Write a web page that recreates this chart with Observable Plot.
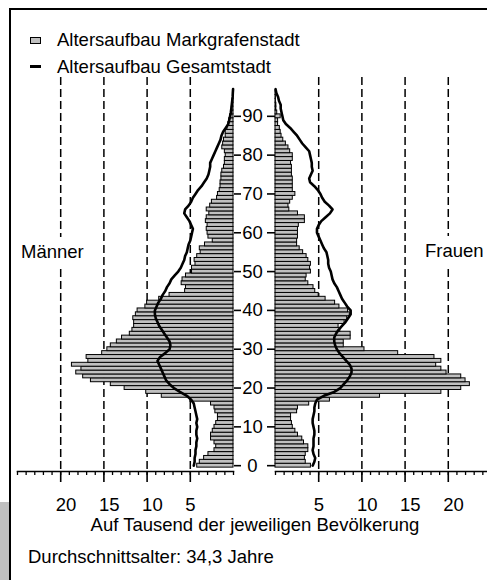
<!DOCTYPE html>
<html>
<head>
<meta charset="utf-8">
<script src="https://cdn.jsdelivr.net/npm/d3@7"></script>
<script src="https://cdn.jsdelivr.net/npm/@observablehq/plot@0.6"></script>
<style>
  body { margin: 0; background: #fff; }
  #page { position: relative; width: 487px; height: 580px; overflow: hidden; background: #fff;
          font-family: "Liberation Sans", Arial, sans-serif; color: #000; }
  #page svg { position: absolute; top: 0; }
  .abs { position: absolute; font-size: 18.5px; line-height: 18px; white-space: nowrap; }
  #frame { position: absolute; left: 9px; top: 8px; width: 600px; height: 700px;
           border-left: 2px solid #000; border-top: 2px solid #000; }
  #grey { position: absolute; left: 0; top: 502px; width: 9px; height: 78px; background: #c0c0c0; }
</style>
</head>
<body>
<div id="page">
  <div id="frame"></div>
  <div id="grey"></div>
</div>
<script>
// ---- data (per mille of the respective population, by age) ----
const ages = d3.range(0, 98);
const maleBars = [4.2,3.9,3.4,2.9,2.2,2.0,2.2,2.6,2.6,2.4, 2.2,2.0,1.8,1.8,2.1,2.2,2.6,5.0,8.3,10.1,
  12.6,14.2,16.5,17.4,18.2,17.6,18.7,16.8,17.0,15.2, 14.6,14.2,13.5,12.9,12.0,11.7,11.5,11.5,11.6,11.3,
  11.1,10.2,10.0,8.6,7.4,5.6,5.5,6.0,5.9,5.5, 4.8,4.8,4.4,4.5,4.2,3.8,3.9,3.3,2.4,2.9,
  3.0,3.1,3.0,3.2,3.1,2.8,3.1,2.7,2.5,1.9, 1.8,1.6,1.5,1.5,1.4,1.4,1.3,1.1,1.0,1.0,
  0.9,1.0,1.3,1.2,1.1,0.9,0.9,0.7,0.6,0.5, 0.4,0.3,0.2,0.1,0.1,0.05,0.05,0];
const maleTotal = [4.6,4.5,4.5,4.4,4.4,4.3,4.3,4.2,4.3,4.3, 4.2,4.3,4.2,4.3,4.4,4.5,4.6,4.9,5.4,6.2,
  6.9,7.4,7.8,8.0,8.2,8.4,8.6,8.8,8.5,7.9, 7.4,7.3,7.4,7.7,8.0,8.3,8.6,8.8,9.0,9.1,
  9.1,8.9,8.7,8.4,8.2,7.9,7.7,7.4,7.2,6.8, 6.4,6.1,5.9,5.7,5.6,5.4,5.3,5.2,5.0,4.9,
  4.8,4.7,4.9,5.1,5.4,5.7,5.6,5.2,4.9,4.7, 4.4,4.1,3.7,3.4,3.1,2.9,2.8,2.7,2.7,2.5,
  2.3,2.1,1.9,1.7,1.5,1.4,1.2,0.9,0.6,0.5, 0.4,0.3,0.25,0.2,0.15,0.1,0.08,0.05];
const femaleBars = [4.1,3.5,3.4,3.5,3.8,3.8,3.3,3.1,2.6,2.3, 2.0,1.9,1.8,1.8,2.5,2.6,3.9,6.3,12.1,19.2,
  21.5,22.5,22.0,21.5,19.8,19.2,18.6,19.2,18.4,14.2, 10.3,7.9,7.9,8.7,8.7,7.5,7.3,8.0,8.3,8.6,
  8.4,7.4,6.9,5.8,5.0,4.6,4.4,3.8,3.5,3.6, 4.1,4.0,4.1,3.8,3.6,3.2,2.8,2.5,2.5,2.6,
  2.6,2.6,2.7,3.4,3.4,2.6,1.6,1.5,1.7,2.0, 2.3,2.0,2.0,2.0,2.0,1.9,1.9,1.9,1.8,2.0,
  2.0,1.7,1.5,1.2,0.9,0.7,0.6,0.5,0.3,0.3, 0.6,0.2,0.1,0.1,0.05,0.05,0.02,0];
const femaleTotal = [4.3,4.5,4.6,4.4,4.3,4.4,4.4,4.4,4.5,4.5, 4.4,4.3,4.3,4.4,4.5,4.5,4.6,4.8,5.6,6.8,
  7.5,7.9,8.3,8.6,8.8,8.8,8.6,8.2,7.8,7.4, 7.1,6.9,6.8,6.8,7.0,7.3,7.7,8.1,8.4,8.7,
  8.7,8.3,8.0,7.7,7.5,7.3,7.1,6.8,6.6,6.5, 6.4,6.2,6.1,6.1,6.0,5.9,5.6,5.4,5.2,5.0,
  4.8,4.8,5.0,5.3,5.8,6.3,6.6,6.2,5.7,5.4, 5.2,4.9,4.5,4.0,3.9,4.1,4.3,4.2,4.2,4.1,
  4.0,3.9,3.5,3.1,2.8,2.5,2.1,1.7,1.2,0.9, 0.8,0.7,0.6,0.6,0.4,0.3,0.1,0];

const ageTicks = [0,10,20,30,40,50,60,70,80,90];
const gridTicks = [5,10,15,20];
const minorTicksLeft = d3.range(0, 26);
const minorTicksRight = d3.range(0, 25);
const legendLabels = ["Altersaufbau Markgrafenstadt", "Altersaufbau Gesamtstadt"];
const sideLabels = ["Männer", "Frauen"];
const axisTitle = "Auf Tausend der jeweiligen Bevölkerung";
const caption = "Durchschnittsalter: 34,3 Jahre";

const male = ages.map((a, i) => ({age: a, bar: maleBars[i], total: maleTotal[i]}));
const female = ages.map((a, i) => ({age: a, bar: femaleBars[i], total: femaleTotal[i]}));

const font = {fontFamily: "'Liberation Sans', Arial, sans-serif", fontSize: "18.5px", background: "none", color: "#000"};
const H = 545, MT = 77, MB = 74;
const barFill = "#c0c0c0";
const blank = () => "";

function side(data, opts) {
  return [
    Plot.ruleX(gridTicks, {stroke: "#000", strokeWidth: 1.5, strokeDasharray: "8,4"}),
    Plot.rectX(data, {x1: 0, x2: "bar", y1: d => d.age - 0.5, y2: d => d.age + 0.5,
      fill: barFill, stroke: "#000", strokeWidth: 1}),
    Plot.line(data, {x: "total", y: "age", stroke: "#000", strokeWidth: 2.6, strokeLinejoin: "round"}),
    Plot.frame({anchor: "bottom", strokeWidth: 1.5}),
    Plot.axisX({ticks: opts.minor, tickSize: 4, tickFormat: blank, strokeWidth: 1.3, label: null}),
    Plot.axisX({ticks: gridTicks, tickSize: 11, tickFormat: blank, strokeWidth: 1.6, label: null}),
    Plot.axisX({ticks: gridTicks, tickSize: 0, tickPadding: 26, textAnchor: "start", dx: -5,
      tickFormat: d => String(d), label: null})
  ];
}

const leftPlot = Plot.plot({
  width: 241, height: H, marginTop: MT, marginBottom: MB, marginLeft: 17, marginRight: 8,
  x: {domain: [25, 0], label: null, axis: null},
  y: {domain: [-1.5, 100], label: null, axis: null},
  style: font,
  marks: [
    ...side(male, {minor: minorTicksLeft}),
    Plot.axisY({anchor: "right", ticks: ageTicks, tickSize: 8, tickFormat: blank, strokeWidth: 1.6, label: null})
  ]
});
leftPlot.style.left = "0px";

const rightPlot = Plot.plot({
  width: 246, height: H, marginTop: MT, marginBottom: MB, marginLeft: 34, marginRight: 0,
  x: {domain: [0, 24.54], label: null, axis: null},
  y: {domain: [-1.5, 100], label: null, axis: null},
  style: font,
  marks: [
    ...side(female, {minor: minorTicksRight}),
    Plot.axisY({anchor: "left", ticks: ageTicks, tickSize: 8, tickPadding: 15, textAnchor: "middle",
      strokeWidth: 1.6, label: null, tickFormat: d => String(d)})
  ]
});
rightPlot.style.left = "241px";

const page = document.getElementById("page");
page.insertBefore(rightPlot, page.firstChild);
page.insertBefore(leftPlot, page.firstChild);

function addText(text, left, top, extra) {
  const d = document.createElement("div");
  d.className = "abs";
  d.textContent = text;
  d.style.left = left + "px";
  d.style.top = top + "px";
  if (extra) Object.assign(d.style, extra);
  page.appendChild(d);
  return d;
}
// legend
const sw1 = document.createElement("div");
Object.assign(sw1.style, {position: "absolute", left: "30px", top: "37px", width: "9px", height: "5px",
  background: barFill, border: "1px solid #000"});
page.appendChild(sw1);
const sw2 = document.createElement("div");
Object.assign(sw2.style, {position: "absolute", left: "30px", top: "65px", width: "11px", height: "3px",
  background: "#000"});
page.appendChild(sw2);
addText(legendLabels[0], 57, 31.3);
addText(legendLabels[1], 57, 57.9);
// side labels (white box hides the grid line behind them)
addText(sideLabels[0], 21, 236.6, {background: "#fff", padding: "6px 0"});
addText(sideLabels[1], 425, 235.6, {background: "#fff", padding: "6px 0"});
// axis title and caption
addText(axisTitle, 0, 516.1, {width: "510px", textAlign: "center"});
addText(caption, 28, 547.9);
</script>
</body>
</html>
